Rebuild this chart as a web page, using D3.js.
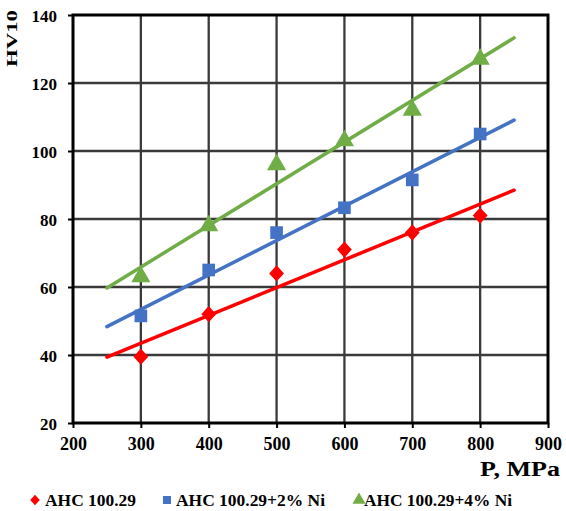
<!DOCTYPE html>
<html><head><meta charset="utf-8">
<script src="https://cdn.jsdelivr.net/npm/d3@7"></script>
<style>body{margin:0;background:#fff}svg{display:block}text{font-family:"Liberation Serif","Times New Roman",serif;font-weight:bold}</style>
</head><body>
<script>
const pressures = [300, 400, 500, 600, 700, 800];
const seriesNames = ["AHC 100.29", "AHC 100.29+2% Ni", "AHC 100.29+4% Ni"];
const hvBase = [39.5, 52, 64, 71, 76, 81];
const hvNi2 = [51.5, 65, 76, 83.3, 91.5, 105];
const hvNi4 = [63, 78, 96, 103, 112, 127];
const xTicks = [200, 300, 400, 500, 600, 700, 800, 900];
const yTicks = [20, 40, 60, 80, 100, 120, 140];
const trendRange = [250, 850];
const colors = ["#ff0000", "#4472c4", "#70ad47"];

const diamond = {draw(ctx, size) {
  const r = Math.sqrt(size) / 2;
  ctx.moveTo(0, -r * 1.1); ctx.lineTo(r, 0); ctx.lineTo(0, r * 1.1); ctx.lineTo(-r, 0); ctx.closePath();
}};
const symbols = [diamond, d3.symbolSquare, d3.symbolTriangle];

const W = 566, H = 511;
const m = {l: 73, r: 18, t: 15, b: 88};
const svg = d3.select("body").append("svg").attr("width", W).attr("height", H);
const x = d3.scaleLinear().domain([200, 900]).range([m.l, W - m.r]);
const y = d3.scaleLinear().domain([20, 140]).range([H - m.b, m.t]);

// grid
svg.append("g").selectAll("line").data(xTicks.slice(1, -1)).join("line")
  .attr("x1", d => x(d)).attr("x2", d => x(d)).attr("y1", y(140)).attr("y2", y(20))
  .attr("stroke", "#3a3a3a").attr("stroke-width", 2.3);
svg.append("g").selectAll("line").data(yTicks.slice(1, -1)).join("line")
  .attr("y1", d => y(d)).attr("y2", d => y(d)).attr("x1", x(200)).attr("x2", x(900))
  .attr("stroke", "#3a3a3a").attr("stroke-width", 2.3);
// frame
svg.append("rect").attr("x", x(200)).attr("y", y(140)).attr("width", x(900) - x(200)).attr("height", y(20) - y(140))
  .attr("fill", "none").attr("stroke", "#000").attr("stroke-width", 3);

// axes
const xa = svg.append("g").attr("transform", `translate(0,${y(20)})`)
  .call(d3.axisBottom(x).tickValues(xTicks).tickSize(5).tickPadding(9).tickFormat(d3.format("d")));
const ya = svg.append("g").attr("transform", `translate(${x(200)},0)`)
  .call(d3.axisLeft(y).tickValues(yTicks).tickSize(5).tickPadding(11).tickFormat(d3.format("d")));
[xa, ya].forEach((a, i) => {
  a.select(".domain").remove();
  a.selectAll(".tick line").attr("stroke", "#000").attr("stroke-width", 2);
  a.selectAll("text").attr("font-size", i === 0 ? 18 : 17).attr("fill", "#000")
    .style("font-family", '"Liberation Serif", serif').style("font-weight", "bold");
});
ya.selectAll("text").attr("dy", "0.4em");

// series
const allSeries = [hvBase, hvNi2, hvNi4];
const sizes = [220, 160, 160];
allSeries.forEach((vals, i) => {
  const mx = d3.mean(pressures), my = d3.mean(vals);
  const slope = d3.sum(pressures, (p, k) => (p - mx) * (vals[k] - my)) / d3.sum(pressures, p => (p - mx) ** 2);
  const b = my - slope * mx;
  svg.append("line")
    .attr("x1", x(trendRange[0])).attr("y1", y(b + slope * trendRange[0]))
    .attr("x2", x(trendRange[1])).attr("y2", y(b + slope * trendRange[1]))
    .attr("stroke", colors[i]).attr("stroke-width", 3.5).attr("stroke-linecap", "round");
  svg.append("g").selectAll("path").data(vals).join("path")
    .attr("transform", (d, k) => `translate(${x(pressures[k])},${y(d)})`)
    .attr("d", d3.symbol().type(symbols[i]).size(sizes[i]))
    .attr("fill", colors[i]);
});

// axis titles
svg.append("text").attr("transform", `translate(17,38.5) rotate(-90)`).attr("text-anchor", "middle")
  .attr("font-size", 15).attr("textLength", 57).attr("lengthAdjust", "spacingAndGlyphs").text("HV10");
svg.append("text").attr("x", 480).attr("y", 476)
  .attr("font-size", 20).attr("textLength", 80).attr("lengthAdjust", "spacingAndGlyphs").text("P, MPa");

// legend
const legSym = [35, 167, 359];
const legText = [45, 176, 364];
const legLen = [91, 149, 148];
const legSizes = [90, 64, 75];
seriesNames.forEach((name, i) => {
  svg.append("path").attr("transform", `translate(${legSym[i]},500)`)
    .attr("d", d3.symbol().type(symbols[i]).size(legSizes[i])).attr("fill", colors[i]);
  svg.append("text").attr("x", legText[i]).attr("y", 506).attr("font-size", 17)
    .attr("textLength", legLen[i]).attr("lengthAdjust", "spacingAndGlyphs").text(name);
});
</script>
</body></html>
